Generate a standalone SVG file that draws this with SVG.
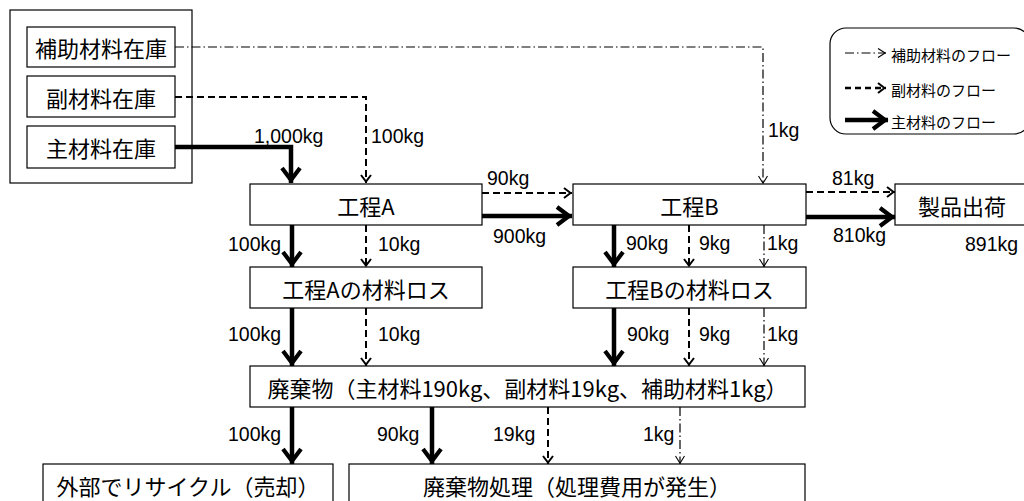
<svg xmlns="http://www.w3.org/2000/svg" width="1024" height="501" viewBox="0 0 1024 501">
<defs>
<style>
.box{fill:#fff;stroke:#000;stroke-width:1.2}
.jt{font-family:"Noto Sans CJK JP","Liberation Sans",sans-serif;font-size:22px;fill:#000;text-anchor:middle;dominant-baseline:central}
.lg{font-family:"Noto Sans CJK JP","Liberation Sans",sans-serif;font-size:15px;fill:#000;dominant-baseline:central}
.lb{font-family:"Liberation Sans",Arial,sans-serif;font-size:19.5px;fill:#000}
.thick{fill:none;stroke:#000;stroke-width:4.5;stroke-linejoin:miter;marker-end:url(#mThick)}
.dash{fill:none;stroke:#000;stroke-width:2;stroke-dasharray:7 4;marker-end:url(#mDash)}
.dd{fill:none;stroke:#000;stroke-width:1.2;stroke-dasharray:9 3 1.5 3;marker-end:url(#mDD)}
</style>
<marker id="mThick" markerUnits="userSpaceOnUse" orient="auto" overflow="visible" markerWidth="1" markerHeight="1" refX="0" refY="0">
<path d="M-15,-9 L-3,0 L-15,9" fill="none" stroke="#000" stroke-width="4.2"/>
</marker>
<marker id="mDash" markerUnits="userSpaceOnUse" orient="auto" overflow="visible" markerWidth="1" markerHeight="1" refX="0" refY="0">
<path d="M-8,-5 L-1.5,0 L-8,5" fill="none" stroke="#000" stroke-width="2"/>
</marker>
<marker id="mDD" markerUnits="userSpaceOnUse" orient="auto" overflow="visible" markerWidth="1" markerHeight="1" refX="0" refY="0">
<path d="M-8,-4.5 L-0.8,0 L-8,4.5" fill="none" stroke="#000" stroke-width="1.1"/>
</marker>
</defs>
<rect width="1024" height="501" fill="#fff"/>

<g id="inventory">
<rect class="box" x="10" y="10" width="182" height="173"/>
</g>
<g id="aux-stock"><rect class="box" x="27" y="27" width="148" height="40"/><text class="jt" x="101" y="47">補助材料在庫</text></g>
<g id="sub-stock"><rect class="box" x="27" y="76" width="148" height="41"/><text class="jt" x="101" y="97">副材料在庫</text></g>
<g id="main-stock"><rect class="box" x="27" y="126" width="148" height="42"/><text class="jt" x="101" y="147">主材料在庫</text></g>

<g id="processA"><rect class="box" x="250" y="184" width="232" height="41"/><text class="jt" x="366" y="204.5">工程A</text></g>
<g id="processB"><rect class="box" x="573" y="184" width="233" height="41"/><text class="jt" x="689.5" y="204.5">工程B</text></g>
<g id="shipment"><rect class="box" x="895" y="184" width="134" height="41"/><text class="jt" x="962" y="204.5">製品出荷</text></g>
<g id="lossA"><rect class="box" x="250" y="267" width="232" height="41"/><text class="jt" x="366" y="287.5">工程Aの材料ロス</text></g>
<g id="lossB"><rect class="box" x="573" y="267" width="233" height="41"/><text class="jt" x="689.5" y="287.5">工程Bの材料ロス</text></g>
<g id="waste"><rect class="box" x="250" y="366" width="555" height="41"/><text class="jt" x="527.5" y="386.5">廃棄物（主材料190kg、副材料19kg、補助材料1kg）</text></g>
<g id="recycle"><rect class="box" x="43" y="464" width="290" height="41"/><text class="jt" x="188" y="484.5">外部でリサイクル（売却）</text></g>
<g id="disposal"><rect class="box" x="349" y="464" width="456" height="41"/><text class="jt" x="577" y="484.5">廃棄物処理（処理費用が発生）</text></g>

<g id="legend">
<rect x="830" y="28" width="200" height="106" rx="16" ry="16" fill="#fff" stroke="#000" stroke-width="1.2"/>
<line x1="845" y1="53" x2="886" y2="53" stroke="#000" stroke-width="1.2" stroke-dasharray="9 3 1.5 3" marker-end="url(#mDD)"/>
<text class="lg" x="891" y="54">補助材料のフロー</text>
<line x1="845" y1="88" x2="886" y2="88" stroke="#000" stroke-width="2.5" stroke-dasharray="6 4" marker-end="url(#mDash)"/>
<text class="lg" x="891" y="89">副材料のフロー</text>
<line x1="845" y1="120" x2="888" y2="120" stroke="#000" stroke-width="4.5" marker-end="url(#mThick)"/>
<text class="lg" x="891" y="121">主材料のフロー</text>
</g>

<g id="connectors">
<polyline class="dd" points="175,47 763,47 763,184"/>
<polyline class="dash" points="175,97 366,97 366,183"/>
<polyline class="thick" points="175,147 291,147 291,183"/>
<line class="dash" x1="482" y1="193" x2="572" y2="193"/>
<line class="thick" x1="482" y1="216" x2="572" y2="216"/>
<line class="dash" x1="806" y1="192" x2="895" y2="192"/>
<line class="thick" x1="806" y1="217" x2="895" y2="217"/>
<line class="thick" x1="292" y1="225" x2="292" y2="267"/>
<line class="dash" x1="366" y1="225" x2="366" y2="267"/>
<line class="thick" x1="614" y1="225" x2="614" y2="267"/>
<line class="dash" x1="689" y1="225" x2="689" y2="267"/>
<line class="dd" x1="764" y1="225" x2="764" y2="267"/>
<line class="thick" x1="292" y1="308" x2="292" y2="366"/>
<line class="dash" x1="366" y1="308" x2="366" y2="366"/>
<line class="thick" x1="614" y1="308" x2="614" y2="366"/>
<line class="dash" x1="689" y1="308" x2="689" y2="366"/>
<line class="dd" x1="764" y1="308" x2="764" y2="366"/>
<line class="thick" x1="292" y1="407" x2="292" y2="464"/>
<line class="thick" x1="432" y1="407" x2="432" y2="464"/>
<line class="dash" x1="548" y1="407" x2="548" y2="464"/>
<line class="dd" x1="680" y1="407" x2="680" y2="464"/>
</g>

<g id="labels">
<text class="lb" x="254" y="143">1,000kg</text>
<text class="lb" x="371" y="143">100kg</text>
<text class="lb" x="768" y="137">1kg</text>
<text class="lb" x="487" y="185">90kg</text>
<text class="lb" x="493" y="243">900kg</text>
<text class="lb" x="832" y="185">81kg</text>
<text class="lb" x="833" y="242">810kg</text>
<text class="lb" x="965" y="251">891kg</text>
<text class="lb" x="228" y="251">100kg</text>
<text class="lb" x="378" y="251">10kg</text>
<text class="lb" x="626" y="250">90kg</text>
<text class="lb" x="699" y="250">9kg</text>
<text class="lb" x="767" y="250">1kg</text>
<text class="lb" x="228" y="341">100kg</text>
<text class="lb" x="378" y="341">10kg</text>
<text class="lb" x="627" y="341">90kg</text>
<text class="lb" x="699" y="341">9kg</text>
<text class="lb" x="767" y="341">1kg</text>
<text class="lb" x="228" y="441">100kg</text>
<text class="lb" x="377" y="441">90kg</text>
<text class="lb" x="493" y="441">19kg</text>
<text class="lb" x="643" y="441">1kg</text>
</g>
</svg>
